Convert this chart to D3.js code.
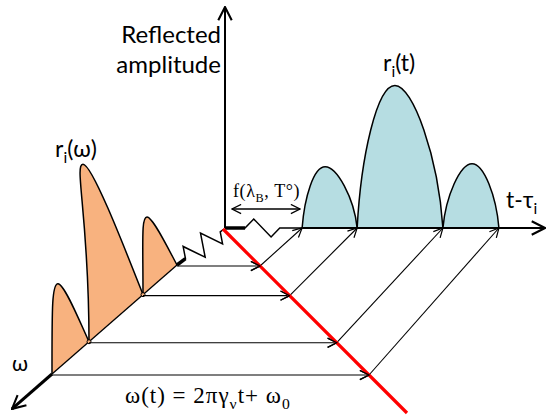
<!DOCTYPE html>
<html><head><meta charset="utf-8">
<script src="https://cdn.jsdelivr.net/npm/d3@7"></script>
<style>body{margin:0;background:#fff}</style></head>
<body><script>
// ---- data ----
const tEdges   = [24.1, 41.3, 68.1, 85.6];   // t-τi where reflected pulses start/end
const tPeaks   = [31.3, 53.1, 77.2];         // pulse peak positions (t)
const tHeights = [27.7, 64.5, 29.1];         // reflected amplitude r_i(t)
const wEdges   = [0, 27.2, 70.4, 100];       // ω positions of spectral lobes
const wPeaks   = [24, 75.2, 95.2];           // lobe peak positions (ω)
const wHeights = [33.6, 82.7, 38.5];         // reflected amplitude r_i(ω)
const yLabel   = ["Reflected", "amplitude"];

const W = 546, H = 416;
const svg = d3.select("body").append("svg").attr("width", W).attr("height", H);

// ---- scales ----
const tx  = d3.scaleLinear([0, 100], [225, 545]);
const ty  = d3.scaleLinear([0, 100], [228, 7]);
const amp = d3.scaleLinear([0, 100], [0, 221]);
const wx  = d3.scaleLinear([0, 100], [177, 52]);
const wy  = d3.scaleLinear([0, 100], [265, 374]);
const redX = y => 223 + (y - 229);   // ω(t) mapping line

// ---- markers ----
const defs = svg.append("defs");
function marker(id, size, sw) {
  defs.append("marker").attr("id", id).attr("viewBox", "0 0 10 10")
    .attr("refX", 9.3).attr("refY", 5).attr("markerUnits", "userSpaceOnUse")
    .attr("markerWidth", size).attr("markerHeight", size)
    .attr("orient", "auto-start-reverse")
    .append("path").attr("d", "M1,0.8 L9.3,5 L1,9.2")
    .attr("fill", "none").attr("stroke", "#000").attr("stroke-width", sw)
    .attr("stroke-linejoin", "miter");
}
marker("a", 11, 1.1);
marker("big", 16, 1.3);

// ---- pulse shape ----
function pulse(L, P, R, o, closed) {
  const p = d3.path(), Wd = R[0] - L[0];
  p.moveTo(L[0], L[1]);
  p.bezierCurveTo(L[0] + o.a1 * (P[0] - L[0]), L[1] - o.b1 * (L[1] - P[1]),
                  P[0] - o.c * Wd, P[1], P[0], P[1]);
  p.bezierCurveTo(P[0] + o.c * Wd, P[1],
                  R[0] - o.a2 * (R[0] - P[0]), R[1] - o.b2 * (R[1] - P[1]), R[0], R[1]);
  if (closed) p.closePath();
  return p.toString();
}

// ---- orange spectral lobes on ω axis ----
const oShape = {a1: 0, b1: 0.7, c: 0.17, a2: 0.3, b2: 0.35};
wPeaks.forEach((wp, i) => {
  const L = [wx(wEdges[i + 1]), wy(wEdges[i + 1])];
  const R = [wx(wEdges[i]), wy(wEdges[i])];
  const P = [wx(wp), wy(wp) - amp(wHeights[i])];
  svg.append("path").attr("d", pulse(L, P, R, oShape, true)).attr("fill", "#F8B27F");
  svg.append("path").attr("d", pulse(L, P, R, oShape, false))
    .attr("fill", "none").attr("stroke", "#000").attr("stroke-width", 1.5);
});

// ---- blue pulses on t axis ----
const bShape = {a1: 0.1, b1: 0.5, c: 0.21, a2: 0.1, b2: 0.5};
tPeaks.forEach((tp, i) => {
  const L = [tx(tEdges[i]), ty(0)], R = [tx(tEdges[i + 1]), ty(0)];
  const P = [tx(tp), ty(tHeights[i])];
  svg.append("path").attr("d", pulse(L, P, R, bShape, true)).attr("fill", "#B6DDE2");
  svg.append("path").attr("d", pulse(L, P, R, bShape, false))
    .attr("fill", "none").attr("stroke", "#000").attr("stroke-width", 1.5);
});

// ---- axes ----
svg.append("line").attr("x1", tx(0)).attr("y1", ty(0)).attr("x2", tx(0)).attr("y2", ty(100))
  .attr("stroke", "#000").attr("stroke-width", 2).attr("marker-end", "url(#big)");
svg.append("line").attr("x1", tx(tEdges[0])).attr("y1", ty(0)).attr("x2", tx(100)).attr("y2", ty(0))
  .attr("stroke", "#000").attr("stroke-width", 2).attr("marker-end", "url(#big)");
// ω axis
svg.append("line").attr("x1", wx(0)).attr("y1", wy(0)).attr("x2", wx(100)).attr("y2", wy(100))
  .attr("stroke", "#000").attr("stroke-width", 1.3);
svg.append("line").attr("x1", wx(100)).attr("y1", wy(100)).attr("x2", wx(132)).attr("y2", wy(132))
  .attr("stroke", "#000").attr("stroke-width", 3).attr("marker-end", "url(#big)");
// small dots at lobe joins
[wEdges[1], wEdges[2]].forEach(e => svg.append("circle").attr("cx", wx(e)).attr("cy", wy(e))
  .attr("r", 2).attr("fill", "#F8B27F").attr("stroke", "#000").attr("stroke-width", 1));

// ---- springs (delay) ----
function spring(p0, p1, startFrac, teeth, ampPx, endFrac) {
  const dx = p1[0] - p0[0], dy = p1[1] - p0[1], len = Math.hypot(dx, dy);
  const ux = dx / len, uy = dy / len, nx = uy, ny = -ux;
  const pts = [p0];
  const s0 = startFrac * len, s1 = (1 - endFrac) * len, step = (s1 - s0) / (teeth * 2);
  pts.push([p0[0] + ux * s0, p0[1] + uy * s0]);
  for (let k = 0; k < teeth * 2; k++) {
    const s = s0 + step * (k + 0.5), sg = k % 2 === 0 ? 1 : -1;
    pts.push([p0[0] + ux * s + nx * ampPx * sg, p0[1] + uy * s + ny * ampPx * sg]);
  }
  pts.push([p0[0] + ux * s1, p0[1] + uy * s1]);
  pts.push(p1);
  return pts;
}
const lineGen = d3.line();
const origin = [tx(0), ty(0)];
const sL = spring([wx(0), wy(0)], [origin[0] - 1, origin[1] + 1], 0.18, 2, 11, 0.08);
svg.append("path").attr("d", lineGen(sL)).attr("fill", "none").attr("stroke", "#000")
  .attr("stroke-width", 1.5).attr("stroke-linejoin", "miter");
svg.append("path").attr("d", lineGen(sL.slice(0, 2))).attr("stroke", "#000").attr("stroke-width", 3.5);
const sR = spring(origin, [tx(tEdges[0]), ty(0)], 0.26, 1, 9, 0.29);
svg.append("path").attr("d", lineGen(sR)).attr("fill", "none").attr("stroke", "#000")
  .attr("stroke-width", 1.5).attr("stroke-linejoin", "miter");
svg.append("path").attr("d", lineGen(sR.slice(0, 2))).attr("stroke", "#000").attr("stroke-width", 3.5);

// ---- mapping arrows ----
wEdges.forEach((e, i) => {
  const y = wy(e) + 1, xr = redX(y);
  svg.append("line").attr("x1", wx(e)).attr("y1", y).attr("x2", xr).attr("y2", y)
    .attr("stroke", "#000").attr("stroke-width", 1.1).attr("marker-end", "url(#a)");
  svg.append("line").attr("x1", xr).attr("y1", y).attr("x2", tx(tEdges[i])).attr("y2", ty(0))
    .attr("stroke", "#000").attr("stroke-width", 1.1).attr("marker-end", "url(#a)");
});

// red ω(t) line
svg.append("line").attr("x1", redX(229)).attr("y1", 229).attr("x2", redX(413)).attr("y2", 413)
  .attr("stroke", "#FF0000").attr("stroke-width", 3.2);
// redraw horizontal arrowheads over the red line
wEdges.forEach(e => {
  const y = wy(e) + 1, xr = redX(y);
  svg.append("line").attr("x1", xr - 20).attr("y1", y).attr("x2", xr).attr("y2", y)
    .attr("stroke", "none").attr("marker-end", "url(#a)");
});

// double arrow f(λB, T°)
svg.append("line").attr("x1", 232).attr("y1", 209).attr("x2", 300).attr("y2", 209)
  .attr("stroke", "#000").attr("stroke-width", 1.3)
  .attr("marker-start", "url(#a)").attr("marker-end", "url(#a)");

// ---- text ----
const sans = "Lato, 'Open Sans', sans-serif", serif = "'Liberation Serif', 'DejaVu Serif', serif";
yLabel.forEach((s, i) => svg.append("text").attr("x", 221).attr("y", 43 + i * 30)
  .attr("text-anchor", "end").attr("font-family", sans).attr("font-size", 24).attr("fill", "#000").text(s));

function sub(x, y, main, subT, rest, size, fam, ls) {
  const t = svg.append("text").attr("x", x).attr("y", y).attr("font-family", fam)
    .attr("font-size", size).attr("fill", "#000").attr("letter-spacing", ls || 0);
  t.append("tspan").text(main);
  t.append("tspan").attr("dy", size * 0.28).attr("font-size", size * 0.68).text(subT);
  t.append("tspan").attr("dy", -size * 0.28).text(rest);
  return t;
}
sub(55, 157, "r", "i", "(ω)", 23, sans);
sub(383, 71, "r", "i", "(t)", 23, sans);
sub(506, 208, "t-τ", "i", "", 23, sans);
svg.append("text").attr("x", 12).attr("y", 371).attr("font-family", sans).attr("font-size", 21).text("ω");
sub(233, 197, "f(λ", "B", ", T°)", 18, serif, 0.6);
sub(125, 403, "ω(t) = 2πγ", "ν", "t+ ω", 23, serif, 1).append("tspan")
  .attr("dy", 23 * 0.28).attr("font-size", 23 * 0.68).text("0");
</script></body></html>
